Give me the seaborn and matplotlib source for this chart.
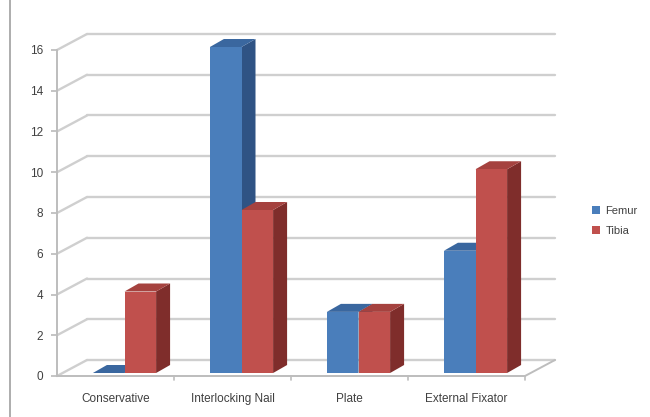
import matplotlib
matplotlib.use("Agg")
import matplotlib.pyplot as plt
import matplotlib.patches as mpatches
from matplotlib.lines import Line2D
import seaborn as sns
import pandas as pd

categories = ["Conservative", "Interlocking Nail", "Plate", "External Fixator"]
femur = [0, 16, 3, 6]
tibia = [4, 8, 3, 10]
series = ["Femur", "Tibia"]
yticks = [0, 2, 4, 6, 8, 10, 12, 14, 16]

front = {"Femur": "#4a7ebb", "Tibia": "#c0504d"}
side = {"Femur": "#2f5384", "Tibia": "#7f2d2b"}
top = {"Femur": "#3a679f", "Tibia": "#a5423f"}

df = pd.DataFrame({
    "category": categories * 2,
    "value": femur + tibia,
    "series": ["Femur"] * len(categories) + ["Tibia"] * len(categories),
})

sns.set_theme(style="white")
plt.rcParams["font.family"] = ["Liberation Sans", "DejaVu Sans"]

W, H = 650, 417
fig = plt.figure(figsize=(W / 100, H / 100), dpi=100)
x0, x1, y0, y1 = 57, 525, 376, 50
ax = fig.add_axes([x0 / W, (H - y0) / H, (x1 - x0) / W, (y0 - y1) / H])

sns.barplot(data=df, x="category", y="value", hue="series", order=categories,
            hue_order=series, palette=front, width=0.54, gap=0, saturation=1,
            edgecolor="none", linewidth=0, legend=False, ax=ax)
ax.set_xlim(-0.5, 3.5)
ax.set_ylim(0, 16)

# pixel -> data scale factors
px_x = 4.0 / (x1 - x0)
px_y = 16.0 / (y0 - y1)

# back wall and floor depth
wdx, wdy = 30 * px_x, 16 * px_y
grid_c = "#cfcfcf"
for v in yticks:
    ax.add_line(Line2D([-0.5 + wdx, 3.5 + wdx], [v + wdy, v + wdy], color=grid_c,
                       lw=1.7, zorder=0.5, clip_on=False))
    ax.add_line(Line2D([-0.5, -0.5 + wdx], [v, v + wdy], color=grid_c,
                       lw=1.7, zorder=0.5, clip_on=False))
# floor front edge and right edge
ax.add_line(Line2D([-0.5, 3.5], [0, 0], color="#bdbdbd", lw=1.4, zorder=0.6, clip_on=False))
ax.add_line(Line2D([3.5, 3.5 + wdx], [0, wdy], color="#bdbdbd", lw=1.4, zorder=0.6, clip_on=False))
# left axis line
ax.add_line(Line2D([-0.5, -0.5], [0, 16], color="#bdbdbd", lw=1.4, zorder=0.6, clip_on=False))

# bars sit a little behind the front plane
sx, sy = 9 * px_x, 3 * px_y
# 3D faces on each bar
bdx, bdy = 14 * px_x, 8 * px_y
bars = [p for p in ax.patches if isinstance(p, mpatches.Rectangle)]
n = len(categories)
for i, p in enumerate(bars[:2 * n]):
    s = series[i // n]
    k = i // n
    x, w, h = p.get_x() + sx, p.get_width(), p.get_height()
    p.set_x(x)
    p.set_y(sy)
    p.set_clip_on(False)
    p.set_zorder(4 + 2 * k)
    ht = h + sy
    sidep = mpatches.Polygon([(x + w, sy), (x + w, ht), (x + w + bdx, ht + bdy), (x + w + bdx, sy + bdy)],
                             closed=True, facecolor=side[s], edgecolor="none",
                             zorder=3 + 2 * k, clip_on=False)
    topp = mpatches.Polygon([(x, ht), (x + w, ht), (x + w + bdx, ht + bdy), (x + bdx, ht + bdy)],
                            closed=True, facecolor=top[s], edgecolor="none",
                            zorder=3 + 2 * k, clip_on=False)
    ax.add_patch(sidep)
    ax.add_patch(topp)

sns.despine(ax=ax, left=True, bottom=True)
ax.set_xlabel("")
ax.set_ylabel("")
ax.set_yticks(yticks)
ax.set_yticklabels([str(v) for v in yticks], fontsize=8.5, color="#404040")
ax.set_xticks(range(n))
ax.set_xticklabels(categories, fontsize=8.5, color="#404040")
ax.tick_params(axis="y", length=4, color="#bdbdbd", pad=6, left=True)
ax.tick_params(axis="x", length=0, pad=12)
# category boundary ticks
for b in [0.5, 1.5, 2.5, 3.5]:
    ax.add_line(Line2D([b, b], [0, -4 * px_y], color="#bdbdbd", lw=1.2, clip_on=False))

# legend
handles = [mpatches.Patch(facecolor=front[s], edgecolor="none", label=s) for s in series]
fig.legend(handles=handles, loc="center left", bbox_to_anchor=(582 / W, 1 - 221 / H),
           frameon=False, fontsize=8, handlelength=0.7, handleheight=0.7,
           handletextpad=0.5, labelspacing=0.9, labelcolor="#404040")

# left border line of the figure
fig.add_artist(Line2D([10 / W, 10 / W], [0, 1], color="#a0a0a0", lw=1.2))

fig.savefig("out.png", dpi=100)
